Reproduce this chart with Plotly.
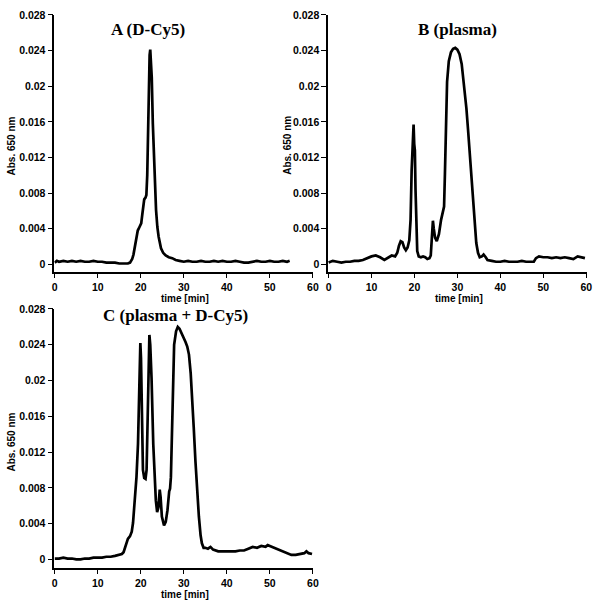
import plotly.graph_objects as go

# ---------------- data ----------------
tA = [0, 0.5, 1, 2, 3, 4, 5, 6, 7, 8, 9, 10, 11, 12, 13, 14, 15, 16, 17, 17.5,
      18, 18.3, 18.6, 19.0, 19.3, 19.7, 20.1, 20.4, 20.8, 21.1, 21.3, 21.5, 21.7,
      21.9, 22.05, 22.2, 22.35, 22.55, 22.8, 23.0, 23.2, 23.55, 23.85, 24.15, 24.7,
      25.2, 25.8, 26.5, 27.3, 28.1, 29, 30, 31, 32, 33, 34, 35, 36, 37, 38, 39, 40,
      41, 42, 43, 44, 45, 46, 47, 48, 49, 50, 51, 52, 53, 54, 54.6]
absA = [0.0002, 0.0004, 0.0003, 0.0004, 0.0003, 0.0004, 0.0003, 0.0004, 0.0003, 0.0003,
        0.0004, 0.0003, 0.0003, 0.0002, 0.0002, 0.0002, 0.0001, 0.0001, 0.0001, 0.0002,
        0.0006, 0.0011, 0.0018, 0.0031, 0.0038, 0.0042, 0.0046, 0.0058, 0.0073, 0.0075,
        0.0078, 0.0100, 0.0160, 0.0213, 0.0235, 0.0241, 0.0228, 0.0210, 0.0158, 0.0128,
        0.0102, 0.0061, 0.0042, 0.0031, 0.0018, 0.0013, 0.0010, 0.0008, 0.0007, 0.0005,
        0.0004, 0.0003, 0.0004, 0.0003, 0.0003, 0.0004, 0.0003, 0.0003, 0.0004, 0.0003,
        0.0004, 0.0003, 0.0003, 0.0004, 0.0003, 0.0002, 0.0002, 0.0003, 0.0004, 0.0003,
        0.0003, 0.0004, 0.0003, 0.0003, 0.0004, 0.0003, 0.0004]

tB = [0, 0.5, 1, 2, 3, 4, 5, 6, 7, 8, 9, 10, 11, 12, 13, 14, 14.7, 15.5, 16, 16.4,
      16.8, 17.2, 17.6, 18.0, 18.4, 18.8, 19.1, 19.35, 19.6, 19.8, 19.95, 20.1, 20.25,
      20.45, 20.65, 21.0, 21.5, 22, 22.5, 23, 23.5, 23.8, 24.1, 24.3, 24.5, 24.8, 25.2,
      25.7, 26.2, 26.6, 26.9, 27.1, 27.3, 27.6, 28.0, 28.5, 29.0, 29.5, 30.0, 30.5,
      31.0, 31.5, 32.1, 32.5, 32.9, 33.3, 33.6, 34.0, 34.4, 34.8, 35.2, 35.7, 36.1,
      36.6, 37, 38, 39, 40, 41, 42, 43, 44, 45, 46, 47, 47.8, 48.3, 49, 50, 51, 52,
      53, 54, 55, 56, 57, 58, 59, 59.7]
absB = [0.0002, 0.0003, 0.0004, 0.0003, 0.0002, 0.0003, 0.0003, 0.0004, 0.0004, 0.0005,
        0.0007, 0.0009, 0.0010, 0.0008, 0.0005, 0.0008, 0.0010, 0.0009, 0.0013, 0.0021,
        0.0026, 0.0025, 0.0019, 0.0016, 0.0019, 0.0027, 0.0050, 0.0106, 0.0145, 0.0157,
        0.0135, 0.0128, 0.0084, 0.0035, 0.0015, 0.0009, 0.0008, 0.0009, 0.0008, 0.0006,
        0.0007, 0.0010, 0.0035, 0.0049, 0.0040, 0.0030, 0.0026, 0.0034, 0.0050, 0.0058,
        0.0065, 0.0102, 0.0158, 0.0205, 0.0228, 0.0238, 0.0242, 0.0243, 0.0241, 0.0236,
        0.0225, 0.0205, 0.0175, 0.0150, 0.0124, 0.0092, 0.0069, 0.0042, 0.0024, 0.0013,
        0.0008, 0.0009, 0.0011, 0.0008, 0.0005, 0.0004, 0.0003, 0.0003, 0.0004, 0.0003,
        0.0003, 0.0003, 0.0004, 0.0003, 0.0003, 0.0003, 0.0007, 0.0009, 0.0008, 0.0008,
        0.0007, 0.0008, 0.0007, 0.0008, 0.0007, 0.0006, 0.0009, 0.0008, 0.0007]

tC = [0, 1, 2, 3, 4, 5, 6, 7, 8, 9, 10, 11, 12, 13, 14, 15, 15.6, 16.0, 16.5, 17.0,
      17.5, 17.9, 18.2, 18.6, 19.0, 19.35, 19.6, 19.9, 20.05, 20.2, 20.5, 20.8, 21.1,
      21.35, 21.55, 21.75, 22.0, 22.2, 22.5, 22.9, 23.2, 23.5, 23.8, 24.1, 24.4, 24.6,
      24.9, 25.4, 25.8, 26.2, 26.6, 26.8, 27.0, 27.4, 27.75, 28.2, 28.6, 29.0, 29.5,
      30.0, 30.4, 30.8, 31.2, 31.6, 31.95, 32.3, 32.7, 33.1, 33.5, 33.9, 34.2, 34.6,
      35.0, 35.6, 36.2, 36.8, 37.3, 38, 39, 40, 41, 42, 43, 44, 45, 46, 47, 48, 49,
      49.5, 50, 51, 52, 53, 54, 55, 56, 57, 58, 58.5, 59, 59.8]
absC = [0.0001, 0.0001, 0.0002, 0.0001, 0.0001, 0.0000, 0.0000, 0.0001, 0.0001, 0.0002,
        0.0002, 0.0002, 0.0003, 0.0003, 0.0004, 0.0005, 0.0006, 0.0008, 0.0017, 0.0023,
        0.0026, 0.0031, 0.0041, 0.0063, 0.0092, 0.0129, 0.0203, 0.0242, 0.0225, 0.0166,
        0.0100, 0.0091, 0.0090, 0.0100, 0.0160, 0.0225, 0.0251, 0.0240, 0.0203, 0.0129,
        0.0085, 0.0066, 0.0053, 0.0058, 0.0078, 0.0070, 0.0048, 0.0038, 0.0042, 0.0055,
        0.0076, 0.0079, 0.0092, 0.0184, 0.0240, 0.0255, 0.0260, 0.0258, 0.0253, 0.0248,
        0.0243, 0.0238, 0.0229, 0.0208, 0.0184, 0.0148, 0.0110, 0.0077, 0.0048, 0.0027,
        0.0018, 0.0013, 0.0013, 0.0012, 0.0014, 0.0011, 0.0010, 0.0009, 0.0009, 0.0009,
        0.0009, 0.0009, 0.0010, 0.0010, 0.0012, 0.0014, 0.0013, 0.0015, 0.0014, 0.0016,
        0.0015, 0.0013, 0.0011, 0.0009, 0.0007, 0.0005, 0.0005, 0.0006, 0.0007, 0.0009,
        0.0007, 0.0006]

y_tickvals = [0, 0.004, 0.008, 0.012, 0.016, 0.02, 0.024, 0.028]
y_ticktext = ["0", "0.004", "0.008", "0.012", "0.016", "0.02", "0.024", "0.028"]
x_tickvals = [0, 10, 20, 30, 40, 50, 60]

panel_titles = ["A (D-Cy5)", "B (plasma)", "C (plasma + D-Cy5)"]
y_title = "Abs. 650 nm"
x_title = "time [min]"

# ---------------- figure ----------------
W, H = 604, 605
def px(x):
    return x / W
def py(y):
    return (H - y) / H

tick_font = dict(family="Arial, Liberation Sans, sans-serif", size=10.5, color="black", weight="bold")
lab_font = dict(family="Arial, Liberation Sans, sans-serif", size=10, color="black", weight="bold")
ttl_font = dict(family="Times New Roman, Liberation Serif, serif", size=17, color="black", weight="bold")

fig = go.Figure()
line = dict(color="black", width=2.7)
fig.add_trace(go.Scatter(x=tA, y=absA, mode="lines", line=line, xaxis="x", yaxis="y", showlegend=False))
fig.add_trace(go.Scatter(x=tB, y=absB, mode="lines", line=line, xaxis="x2", yaxis="y2", showlegend=False))
fig.add_trace(go.Scatter(x=tC, y=absC, mode="lines", line=line, xaxis="x3", yaxis="y3", showlegend=False))

def xax(domain, anchor):
    return dict(domain=domain, anchor=anchor, range=[-0.1, 60.1], tickvals=x_tickvals,
                showline=True, linecolor="black", linewidth=1.5, ticks="outside",
                ticklen=4, tickwidth=1, tickcolor="black", showgrid=False, zeroline=False,
                tickfont=tick_font, fixedrange=True)

def yax(domain, anchor, ymin):
    return dict(domain=domain, anchor=anchor, range=[ymin, 0.028], tickvals=y_tickvals,
                ticktext=y_ticktext, showline=True, linecolor="black", linewidth=1.5,
                ticks="outside", ticklen=5, tickwidth=1, tickcolor="black", showgrid=False,
                zeroline=False, tickfont=tick_font, fixedrange=True)

xdomA = [px(53), px(315.5)]
xdomB = [px(330.5), px(592.5)]
ydomAB = [py(269), py(9)]
ydomC = [py(568), py(306)]

fig.update_layout(
    width=W, height=H, margin=dict(l=0, r=0, t=0, b=0),
    paper_bgcolor="white", plot_bgcolor="white",
    xaxis=xax(xdomA, "y"), yaxis=yax(ydomAB, "x", -0.00089),
    xaxis2=xax(xdomB, "y2"), yaxis2=yax(ydomAB, "x2", -0.00089),
    xaxis3=xax(xdomA, "y3"), yaxis3=yax(ydomC, "x3", -0.001),
)

ann = []
# panel titles
for text, (x, y) in zip(panel_titles, [(147.5, 24), (462, 24), (176, 313)]):
    ann.append(dict(text=text, x=px(x), y=py(y), xref="paper", yref="paper",
                    showarrow=False, font=ttl_font, xanchor="center", yanchor="middle"))
# y titles
for (x, y) in [(10, 141), (289, 141), (10, 440)]:
    ann.append(dict(text=y_title, x=px(x), y=py(y), xref="paper", yref="paper",
                    showarrow=False, font=lab_font, textangle=-90,
                    xanchor="center", yanchor="middle"))
# x titles
for (x, y) in [(185, 295), (463, 295), (185, 594)]:
    ann.append(dict(text=x_title, x=px(x), y=py(y), xref="paper", yref="paper",
                    showarrow=False, font=lab_font, xanchor="center", yanchor="middle"))
fig.update_layout(annotations=ann)

fig.write_html("out.html", config={"displayModeBar": False},
               post_script="document.body.style.margin='0';document.body.style.overflow='hidden';")
